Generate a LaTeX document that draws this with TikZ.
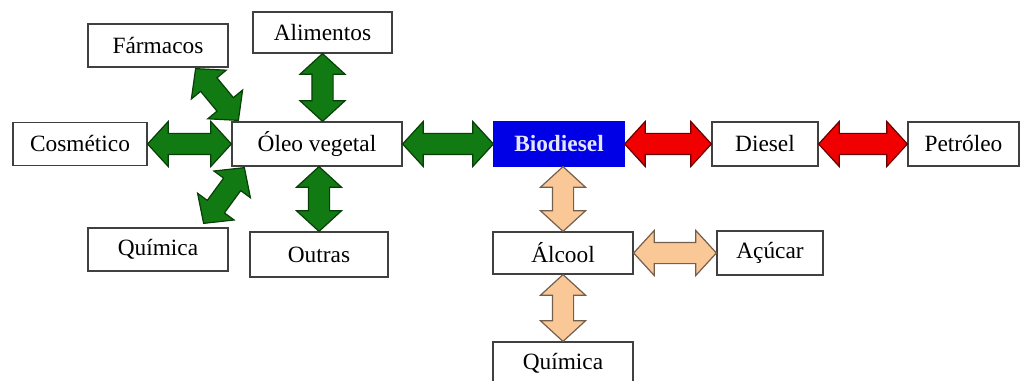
\documentclass[tikz,border=0pt]{standalone}
\usepackage{fontspec}
\setmainfont{Liberation Serif}
\usetikzlibrary{calc,shapes.arrows}

\definecolor{verde}{RGB}{18,122,18}
\definecolor{verdeesc}{RGB}{8,62,8}
\definecolor{vermelho}{RGB}{240,0,0}
\definecolor{vermelhoesc}{RGB}{105,0,0}
\definecolor{pessego}{RGB}{250,200,150}
\definecolor{pessegoesc}{RGB}{115,95,78}
\definecolor{azul}{RGB}{0,0,230}
\definecolor{textoazul}{RGB}{228,228,255}

\tikzset{
  caixa/.style={draw=black!75, line width=0.9pt, fill=white, inner sep=0pt,
    font=\fontsize{17.5}{21}\selectfont},
  seta/.style={to path={
    let \p1=($(\tikztotarget)-(\tikztostart)$),
        \n1={veclen(\x1,\y1)}, \n2={-atan2(\y1,\x1)} in
    node[double arrow, rotate=\n2, minimum height=\n1, minimum width=0pt,
      inner xsep=0pt, inner ysep=7.5pt, double arrow head extend=9pt,
      double arrow tip angle=95, line width=0.9pt, #1]
      at ($(\tikztostart)!0.5!(\tikztotarget)$) {}}},
  setaverde/.style={seta={fill=verde, draw=verdeesc}},
  setavermelha/.style={seta={fill=vermelho, draw=vermelhoesc}},
  setapessego/.style={seta={fill=pessego, draw=pessegoesc}},
}

\begin{document}
\begin{tikzpicture}[x=0.75pt,y=0.75pt,yscale=-1]
\useasboundingbox (0,0) rectangle (1021,381);

% Text Node
\node[caixa, minimum width=105pt, minimum height=32.25pt] (farm) at (158,45.5) {Fármacos};
% Text Node
\node[caixa, minimum width=104.25pt, minimum height=30.75pt] (alim) at (322.5,32.5) {Alimentos};
% Text Node
\node[caixa, minimum width=100.5pt, minimum height=32.25pt] (cosm) at (80,144) {Cosmético};
% Text Node
\node[caixa, minimum width=127.5pt, minimum height=33pt] (oleo) at (317,144) {Óleo vegetal};
% Text Node
\node[caixa, minimum width=105pt, minimum height=32.25pt] (quima) at (158,249.5) {Química};
% Text Node
\node[caixa, minimum width=103.5pt, minimum height=33.75pt] (outras) at (319,254.5) {Outras};
% Text Node
\node[caixa, fill=azul, draw=azul, text=textoazul, font=\fontsize{17.5}{21}\selectfont\bfseries,
  minimum width=97.5pt, minimum height=33pt] (bio) at (559,144) {Biodiesel};
% Text Node
\node[caixa, minimum width=79.5pt, minimum height=33pt] (diesel) at (765,144) {Diesel};
% Text Node
\node[caixa, minimum width=83.25pt, minimum height=33pt] (petr) at (963.5,144) {Petróleo};
% Text Node
\node[caixa, minimum width=105pt, minimum height=31.5pt] (alcool) at (563,253) {Álcool};
% Text Node
\node[caixa, minimum width=79.5pt, minimum height=33pt] (acucar) at (770,253) {Açúcar};
% Text Node
\node[caixa, minimum width=105pt, minimum height=31.5pt] (quimb) at (563,363) {Química};

\coordinate (fa) at ($(farm.south east)+(-33,1)$);
\coordinate (fb) at ($(oleo.north west)+(7,-1)$);
\coordinate (qa) at ($(oleo.south west)+(13,1)$);
\coordinate (qb) at ($(quima.north east)+(-25,-4)$);

%Shape: Double Arrow
\path[setaverde] (fa) to (fb);
\path[setaverde] (alim.south) to (alim.south |- oleo.north);
\path[setaverde] (cosm.east) to (oleo.west);
\path[setaverde] (qa) to (qb);
\path[setaverde] (outras.north |- oleo.south) to (outras.north);
\path[setaverde] (oleo.east) to (bio.west);

%Shape: Double Arrow
\path[setavermelha] (bio.east) to (diesel.west);
\path[setavermelha] (diesel.east) to (petr.west);

%Shape: Double Arrow
\path[setapessego] (alcool.north |- bio.south) to (alcool.north);
\path[setapessego] (alcool.east) to (acucar.west);
\path[setapessego] (alcool.south) to (quimb.north);

\end{tikzpicture}
\end{document}
